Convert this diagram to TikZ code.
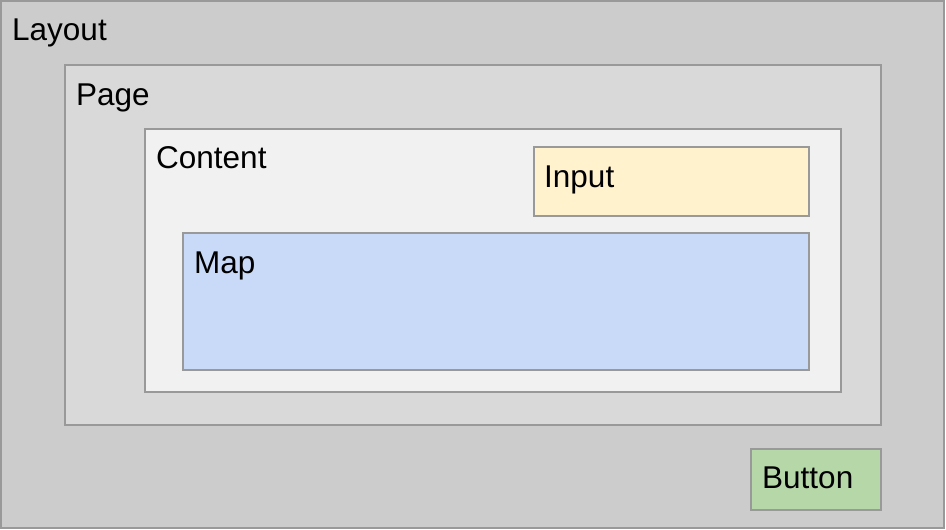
\documentclass[tikz,border=0pt]{standalone}
\usepackage{fontspec}
\setmainfont{Liberation Sans}
\definecolor{edge}{HTML}{999999}
\definecolor{layoutfill}{HTML}{CCCCCC}
\definecolor{pagefill}{HTML}{D9D9D9}
\definecolor{contentfill}{HTML}{F1F1F1}
\definecolor{inputfill}{HTML}{FFF2CC}
\definecolor{mapfill}{HTML}{C9DAF8}
\definecolor{buttonfill}{HTML}{B6D7A8}
\tikzset{
  box/.style={draw=edge, line width=1.3pt, rectangle, inner sep=0pt, outer sep=0pt, anchor=north west},
  lbl/.style={anchor=base west, inner sep=0pt, font=\fontsize{31.5}{38}\selectfont, text=black}
}
\begin{document}
\begin{tikzpicture}[x=1pt,y=-1pt]
\useasboundingbox (0,0) rectangle (946,530);
\node[box, fill=layoutfill, minimum width=943, minimum height=527] (layout) at (1,1) {};
\node[box, fill=pagefill, minimum width=816, minimum height=360] (page) at (65,65) {};
\node[box, fill=contentfill, minimum width=696, minimum height=263] (content) at (145,129) {};
\node[box, fill=inputfill, minimum width=275, minimum height=69] (input) at (534,147) {};
\node[box, fill=mapfill, minimum width=626, minimum height=137] (map) at (183,233) {};
\node[box, fill=buttonfill, minimum width=130, minimum height=61] (button) at (751,449) {};
\node[lbl] (tlayout) at (12,41) {Layout};
\node[lbl] (tpage) at (76,105) {Page};
\node[lbl] (tcontent) at (156,168) {Content};
\node[lbl] (tinput) at (544,187) {Input};
\node[lbl] (tmap) at (194,273) {Map};
\node[lbl] (tbutton) at (762,488) {Button};
\end{tikzpicture}
\end{document}
